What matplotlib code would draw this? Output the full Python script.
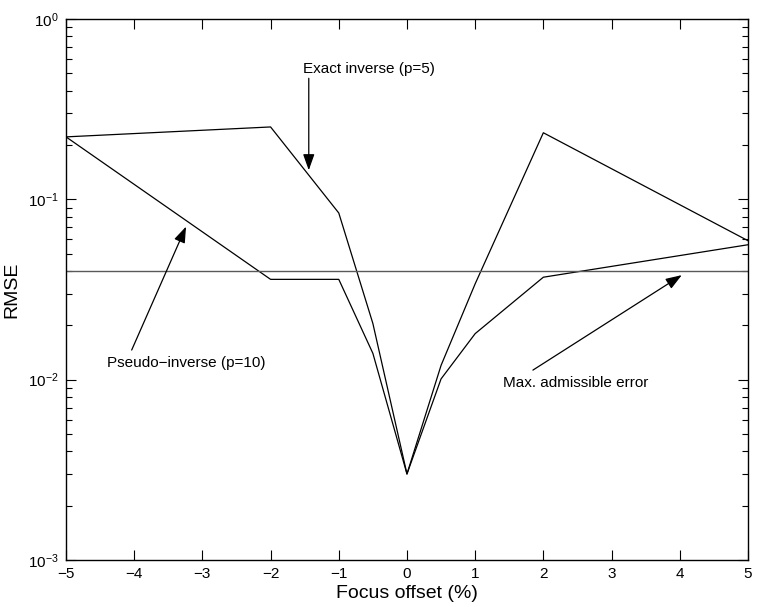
import numpy as np
import matplotlib
matplotlib.use('Agg')
import matplotlib.pyplot as plt
from matplotlib.ticker import LogLocator, FixedLocator

plt.rcParams['font.family'] = ['Liberation Sans', 'DejaVu Sans']
plt.rcParams['mathtext.fontset'] = 'custom'
plt.rcParams['mathtext.rm'] = 'Liberation Sans'

# focus offsets (%) and RMSE for both reconstructions
offset = [-5, -2, -1, -0.5, 0, 0.5, 1, 2, 5]
rmse_exact = [0.222, 0.252, 0.084, 0.0205, 0.0030, 0.012, 0.034, 0.234, 0.059]
rmse_pseudo = [0.222, 0.036, 0.036, 0.014, 0.0030, 0.0101, 0.018, 0.037, 0.056]
max_error = 0.040

fig = plt.figure(figsize=(7.57, 6.07), dpi=100)
ax = fig.add_axes([0.0872, 0.0774, 0.9008, 0.8913])

ax.plot(offset, rmse_exact, color='k', lw=0.9)
ax.plot(offset, rmse_pseudo, color='k', lw=0.9)
ax.axhline(max_error, color='0.35', lw=1.0)

ax.set_yscale('log')
ax.set_xlim(-5, 5)
ax.set_ylim(1e-3, 1e0)
ax.xaxis.set_major_locator(FixedLocator(np.arange(-5, 6, 1)))
ax.yaxis.set_major_locator(LogLocator(base=10, numticks=10))
ax.yaxis.set_minor_locator(LogLocator(base=10, subs=np.arange(2, 10), numticks=10))

ax.tick_params(which='both', direction='in', top=True, right=True, labelsize=11)
ax.tick_params(which='major', length=7, width=0.8, pad=5)
ax.tick_params(which='minor', length=4, width=0.8)
for s in ax.spines.values():
    s.set_linewidth(1.0)

ax.set_xlabel('Focus offset (%)', fontsize=14, labelpad=3)
ax.set_ylabel('RMSE', fontsize=14, labelpad=6)

arrow = dict(arrowstyle='-|>,head_length=0.7,head_width=0.25', color='k', lw=0.9,
             mutation_scale=14, shrinkA=0, shrinkB=0)

ax.text(-1.53, 0.528, 'Exact inverse (p=5)', fontsize=11, ha='left', va='center')
ax.annotate('', xy=(-1.44, 0.145), xytext=(-1.44, 0.469), arrowprops=arrow)

ax.text(-4.40, 0.01236, 'Pseudo\u2212inverse (p=10)', fontsize=11, ha='left', va='center')
ax.annotate('', xy=(-3.24, 0.0706), xytext=(-4.037, 0.0146), arrowprops=arrow)

ax.text(1.408, 0.00958, 'Max. admissible error', fontsize=11, ha='left', va='center')
ax.annotate('', xy=(4.03, 0.038), xytext=(1.847, 0.0113), arrowprops=arrow)

fig.savefig('out.png', dpi=100)
